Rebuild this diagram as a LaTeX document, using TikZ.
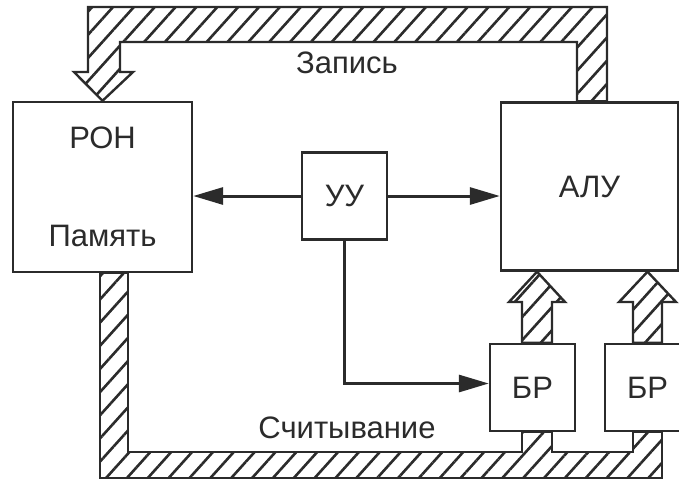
\documentclass[tikz,border=0pt]{standalone}
\usepackage{fontspec}
\setmainfont{Liberation Sans}
\usepackage{xcolor}
\usetikzlibrary{calc,arrows.meta,patterns.meta}
\definecolor{linec}{HTML}{2B2B2B}
\tikzset{
  blk/.style={draw=linec,line width=2.4pt,fill=white,inner sep=0pt,align=center,text=linec,font=\fontsize{31}{37}\selectfont},
  bigblk/.style={blk,minimum width=177pt,minimum height=168pt},
  smallblk/.style={blk,minimum width=85pt,minimum height=87pt},
  ar/.style={-{Triangle[length=30pt,width=17pt]},line width=3pt,linec},
  bus/.style={draw=linec,line width=2.4pt,pattern={Lines[angle=48,distance=15.5pt,line width=2.6pt]},pattern color=linec},
  lbl/.style={font=\fontsize{31}{37}\selectfont,text=linec}
}
\begin{document}
\begin{tikzpicture}[x=1pt,y=-1pt]
\useasboundingbox (0,0) rectangle (679,480);
% blocks
\node[bigblk,minimum width=179pt,minimum height=170pt] (ron) at (102.5,187) {РОН\\[61pt]Память};
\node[smallblk] (uu) at (344.5,196) {УУ};
\node[bigblk] (alu) at (589.5,186.5) {АЛУ};
\node[smallblk] (br1) at (532.5,387.5) {БР};
\node[smallblk] (br2) at (647.5,387.5) {БР};
\node[lbl] (zap) at (347,63) {Запись};
\node[lbl] (schit) at (347,428) {Считывание};
% buses
\draw[bus] (88,7) -- (607,7) -- (607,0 |- alu.north) -- (577,0 |- alu.north) -- (577,42) -- (120,42)
  -- (120,72) -- (133,72) -- (ron.north) -- (74,72) -- (88,72) -- cycle;
\draw[bus] (100,0 |- ron.south) -- (128,0 |- ron.south) -- (128,452) -- (522,452) -- (522,0 |- br1.south)
  -- (552,0 |- br1.south) -- (552,452) -- (633,452) -- (633,0 |- br2.south) -- (662,0 |- br2.south)
  -- (662,478) -- (100,478) -- cycle;
\draw[bus] (522,0 |- br1.north) -- (522,302) -- (509,302) -- (537,0 |- alu.south) -- (565,302) -- (552,302)
  -- (552,0 |- br1.north) -- cycle;
\draw[bus] (633,0 |- br2.north) -- (633,302) -- (619,302) -- (647.5,0 |- alu.south) -- (676,302) -- (662,302)
  -- (662,0 |- br2.north) -- cycle;
% control lines
\draw[ar] (uu.west) -- (uu.west -| ron.east);
\draw[ar] (uu.east) -- (uu.east -| alu.west);
\draw[ar] (uu.south) |- ($(br1.west)+(0,-4)$);
\end{tikzpicture}
\end{document}
